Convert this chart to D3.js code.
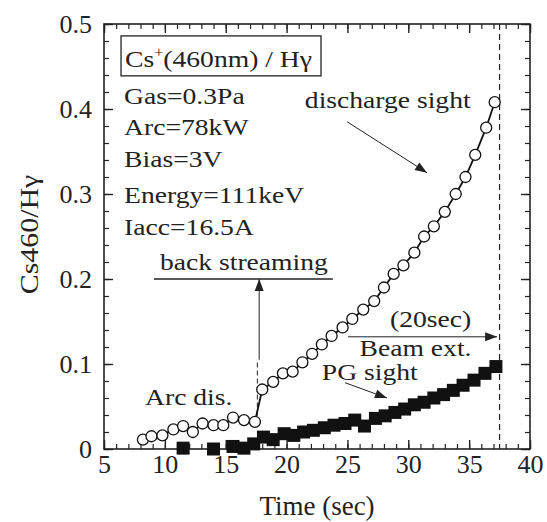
<!DOCTYPE html>
<html>
<head>
  <meta charset="UTF-8">
  <title>Cs460/Hγ vs time</title>
  <script src="https://d3js.org/d3.v7.min.js"></script>
  <style>
    body { margin: 0; background: #fff; }
    svg text { font-family: "Liberation Serif", "Times New Roman", serif; fill: #222; }
  </style>
</head>
<body>
<svg id="chart" width="547" height="522"></svg>
<script>

// discharge sight (open circles)
var dischargeTime = [8.2, 8.9, 9.8, 10.7, 11.5, 12.3, 13.1, 14.0, 14.8, 15.6, 16.5, 17.4,
  18.0, 18.9, 19.7, 20.5, 21.3, 22.1, 22.9, 23.7, 24.6, 25.4, 26.3, 27.2, 28.0, 28.8,
  29.6, 30.5, 31.3, 32.1, 33.0, 33.9, 34.7, 35.5, 36.4, 37.1];
var dischargeVal = [0.011, 0.015, 0.016, 0.023, 0.027, 0.020, 0.030, 0.028, 0.028, 0.037, 0.034, 0.032,
  0.070, 0.079, 0.089, 0.091, 0.102, 0.112, 0.123, 0.133, 0.143, 0.153, 0.164, 0.174, 0.190, 0.206,
  0.216, 0.231, 0.250, 0.262, 0.279, 0.300, 0.320, 0.346, 0.378, 0.408];

// PG sight (filled squares)
var pgTime = [11.5, 14.0, 15.6, 16.5, 17.3, 18.1, 18.9, 19.8, 20.6, 21.4, 22.2, 23.1, 23.9,
  24.8, 25.6, 26.4, 27.3, 28.1, 28.9, 29.7, 30.5, 31.3, 32.1, 32.9, 33.7, 34.5, 35.4, 36.3, 37.2];
var pgVal = [0.001, 0.000, 0.003, 0.001, 0.006, 0.014, 0.011, 0.018, 0.016, 0.020, 0.022, 0.025, 0.028,
  0.030, 0.034, 0.027, 0.036, 0.039, 0.043, 0.047, 0.052, 0.055, 0.060, 0.064, 0.069, 0.075, 0.081, 0.089, 0.097];

var xTicks = [5, 10, 15, 20, 25, 30, 35, 40];
var yTicks = [0, 0.1, 0.2, 0.3, 0.4, 0.5];
var beamEnd = 37.5;

var svg = d3.select("#chart");
var plotL = 104, plotR = 530, plotT = 24, plotB = 449;

var x = d3.scaleLinear().domain([5, 40]).range([plotL, plotR]);
var y = d3.scaleLinear().domain([0, 0.5]).range([plotB, plotT]);

var ink = "#222";
var stretch = 1.15; // the original lettering is a bit wide

// arrow marker
var defs = svg.append("defs");
defs.append("marker")
  .attr("id", "head")
  .attr("markerUnits", "userSpaceOnUse")
  .attr("viewBox", "0 -5 12 10")
  .attr("refX", 12).attr("refY", 0)
  .attr("markerWidth", 14).attr("markerHeight", 10)
  .attr("orient", "auto")
  .append("path").attr("d", "M0,-4.5L12,0L0,4.5Z").attr("fill", ink);

// axes: major + minor, ticks pointing inward
var minorX = d3.range(5, 41, 1);
var minorY = d3.range(0, 0.5001, 0.02);

function addAxis(axisFn, scale, transform, minor, major, labels) {
  svg.append("g").attr("transform", transform)
    .call(axisFn(scale).tickValues(minor).tickSize(-5).tickSizeOuter(0).tickFormat(""))
    .call(function(g) { g.select(".domain").remove(); g.selectAll("line").attr("stroke", ink).attr("stroke-width", 1.2); });
  var g = svg.append("g").attr("transform", transform)
    .call(axisFn(scale).tickValues(major).tickSize(-9).tickSizeOuter(0)
      .tickPadding(axisFn === d3.axisBottom ? 6 : 12)
      .tickFormat(labels ? d3.format("") : ""));
  g.select(".domain").remove();
  g.selectAll("line").attr("stroke", ink).attr("stroke-width", 1.4);
  g.selectAll("text").style("font-size", "26px").attr("fill", ink)
    .style("font-family", '"Liberation Serif", "Times New Roman", serif');
  return g;
}
addAxis(d3.axisBottom, x, "translate(0," + plotB + ")", minorX, xTicks, true);
addAxis(d3.axisTop, x, "translate(0," + plotT + ")", minorX, xTicks, false);
addAxis(d3.axisLeft, y, "translate(" + plotL + ",0)", minorY, yTicks, true);
addAxis(d3.axisRight, y, "translate(" + plotR + ",0)", minorY, yTicks, false);

svg.append("rect")
  .attr("x", plotL).attr("y", plotT)
  .attr("width", plotR - plotL).attr("height", plotB - plotT)
  .attr("fill", "none").attr("stroke", ink).attr("stroke-width", 1.6);

// axis titles
svg.append("text")
  .attr("x", (plotL + plotR) / 2).attr("y", 515)
  .attr("text-anchor", "middle").style("font-size", "27px")
  .text("Time (sec)");
svg.append("text")
  .attr("transform", "translate(38," + ((plotT + plotB) / 2 - 2) + ") rotate(-90) scale(" + stretch + ",1)")
  .attr("text-anchor", "middle").style("font-size", "26px")
  .text("Cs460/Hγ");

// beam extraction end
svg.append("line")
  .attr("x1", x(beamEnd)).attr("x2", x(beamEnd))
  .attr("y1", plotT).attr("y2", plotB)
  .attr("stroke", ink).attr("stroke-width", 1.2).attr("stroke-dasharray", "6,4");

// back streaming marker
svg.append("line")
  .attr("x1", x(17.6)).attr("x2", x(17.6))
  .attr("y1", y(0.03)).attr("y2", y(0.105))
  .attr("stroke", ink).attr("stroke-width", 1).attr("stroke-dasharray", "5,3");
svg.append("line")
  .attr("x1", x(17.75)).attr("x2", x(17.75))
  .attr("y1", y(0.105)).attr("y2", y(0.2))
  .attr("stroke", ink).attr("stroke-width", 1).attr("marker-end", "url(#head)");
svg.append("line")
  .attr("x1", x(9.1)).attr("x2", x(23.8))
  .attr("y1", y(0.2)).attr("y2", y(0.2))
  .attr("stroke", ink).attr("stroke-width", 1.3);

// PG sight squares
var pgData = pgTime.map(function(t, i) { return [t, pgVal[i]]; });
svg.append("g").selectAll("rect")
  .data(pgData).enter().append("rect")
  .attr("x", function(d) { return x(d[0]) - 6.5; })
  .attr("y", function(d) { return y(d[1]) - 6.5; })
  .attr("width", 13).attr("height", 13)
  .attr("fill", "#111");

// discharge sight line + circles
var dData = dischargeTime.map(function(t, i) { return [t, dischargeVal[i]]; });
svg.append("path")
  .datum(dData)
  .attr("d", d3.line().x(function(d) { return x(d[0]); }).y(function(d) { return y(d[1]); }))
  .attr("fill", "none").attr("stroke", "#111").attr("stroke-width", 1.8);
svg.append("g").selectAll("circle")
  .data(dData).enter().append("circle")
  .attr("cx", function(d) { return x(d[0]); })
  .attr("cy", function(d) { return y(d[1]); })
  .attr("r", 5.5)
  .attr("fill", "#fff").attr("stroke", "#111").attr("stroke-width", 1.3);

// annotation text, slightly widened like the original lettering
function label(t, tx, ty) {
  return svg.append("text")
    .attr("transform", "translate(" + x(tx) + "," + y(ty) + ") scale(" + stretch + ",1)")
    .style("font-size", "24px").text(t);
}
function arrow(x1, y1, x2, y2) {
  svg.append("line")
    .attr("x1", x(x1)).attr("y1", y(y1)).attr("x2", x(x2)).attr("y2", y(y2))
    .attr("stroke", ink).attr("stroke-width", 1).attr("marker-end", "url(#head)");
}

// legend box
svg.append("rect")
  .attr("x", x(6.4)).attr("y", y(0.486))
  .attr("width", x(22.83) - x(6.4)).attr("height", y(0.439) - y(0.486))
  .attr("fill", "none").attr("stroke", ink).attr("stroke-width", 1.3);
var boxText = label("", 6.73, 0.449);
boxText.append("tspan").text("Cs");
boxText.append("tspan").attr("dy", -10).style("font-size", "14px").text("+");
boxText.append("tspan").attr("dy", 10).text("(460nm) / Hγ");

// conditions
var condLines = ["Gas=0.3Pa", "Arc=78kW", "Bias=3V", "Energy=111keV", "Iacc=16.5A"];
var condY = [0.406, 0.369, 0.332, 0.289, 0.252];
condLines.forEach(function(t, i) { label(t, 6.65, condY[i]); });

label("discharge sight", 21.5, 0.401);
arrow(24.97, 0.385, 31.54, 0.325);
label("back streaming", 9.6, 0.211);
label("Arc dis.", 8.37, 0.052);
label("(20sec)", 28.5, 0.1435);
arrow(25.05, 0.132, 37.3, 0.132);
label("Beam ext.", 26.0, 0.109);
label("PG sight", 22.9, 0.081);
arrow(24.8, 0.078, 28.25, 0.060);

</script>
</body>
</html>
